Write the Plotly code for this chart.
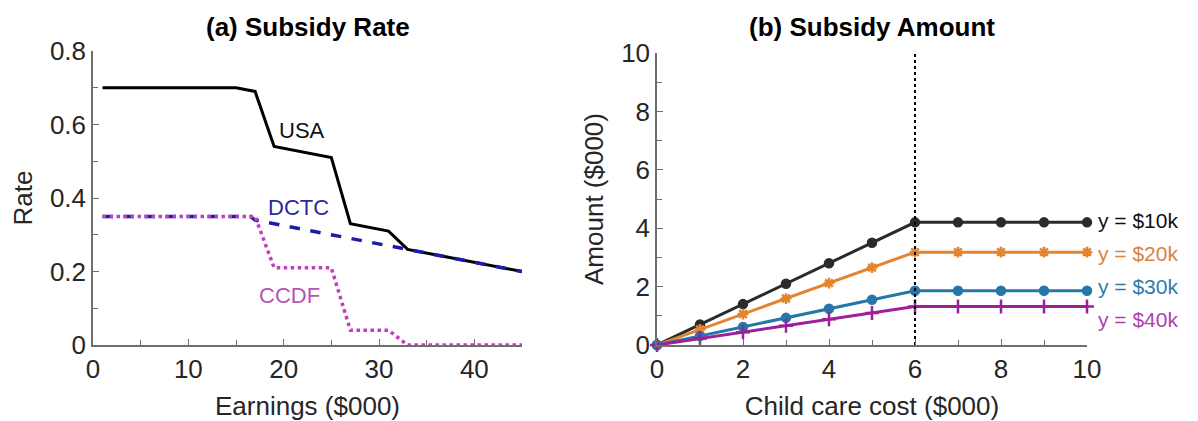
import plotly.graph_objects as go

# ---------------- Data ----------------
# Panel (a): subsidy rate vs earnings ($000)
usa_x = [1, 15, 17, 19, 25, 27, 31, 33, 37, 41, 45]
usa_y = [0.70, 0.70, 0.69, 0.54, 0.51, 0.33, 0.31, 0.26, 0.24, 0.22, 0.20]

dctc_x = [1, 16.5, 17, 33, 45]
dctc_y = [0.35, 0.35, 0.34, 0.26, 0.20]

ccdf_x = [1, 17, 19, 25, 27, 31, 33, 45]
ccdf_y = [0.35, 0.35, 0.21, 0.21, 0.04, 0.04, 0.0, 0.0]

# Panel (b): subsidy amount vs child care cost ($000)
cost = [0, 1, 2, 3, 4, 5, 6, 7, 8, 9, 10]
amt_10k = [0, 0.70, 1.40, 2.10, 2.80, 3.50, 4.20, 4.20, 4.20, 4.20, 4.20]
amt_20k = [0, 0.53, 1.06, 1.59, 2.12, 2.65, 3.18, 3.18, 3.18, 3.18, 3.18]
amt_30k = [0, 0.31, 0.62, 0.93, 1.24, 1.55, 1.86, 1.86, 1.86, 1.86, 1.86]
amt_40k = [0, 0.22, 0.44, 0.66, 0.88, 1.10, 1.32, 1.32, 1.32, 1.32, 1.32]
series_labels = ["y = $10k", "y = $20k", "y = $30k", "y = $40k"]
label_y = [4.28, 3.15, 1.99, 0.86]
cap_cost = 6

# ---------------- Layout geometry ----------------
# The page body has an 8px default margin, so the figure is offset by 8px.
OFF = 8
W, H = 1198 - OFF, 421 - OFF


def px(x):
    return (x - OFF) / W


def py(y):
    return 1 - (y - OFF) / H


XD1 = [px(93), px(522)]
XD2 = [px(657), px(1087)]
YD1 = [py(345), py(51)]
YD2 = [py(345), py(53)]
X2R = [0, 10]
Y2R = [0, 10]


def x2_paper(v):
    return XD2[0] + (v - X2R[0]) / (X2R[1] - X2R[0]) * (XD2[1] - XD2[0])


def y2_paper(v):
    return YD2[0] + (v - Y2R[0]) / (Y2R[1] - Y2R[0]) * (YD2[1] - YD2[0])


FONT = "Liberation Sans, Arial, sans-serif"
TXT = "#262626"
AX = "#6e6e6e"

fig = go.Figure()

# Panel (a)
fig.add_trace(go.Scatter(x=usa_x, y=usa_y, mode="lines", xaxis="x", yaxis="y",
                         line=dict(color="#000000", width=3), showlegend=False))
fig.add_trace(go.Scatter(x=dctc_x, y=dctc_y, mode="lines", xaxis="x", yaxis="y",
                         line=dict(color="#1c1ca6", width=3.5, dash="dash"), showlegend=False))
fig.add_trace(go.Scatter(x=ccdf_x, y=ccdf_y, mode="lines", xaxis="x", yaxis="y",
                         line=dict(color="#c040c0", width=3.5, dash="dot"), showlegend=False))

# Panel (b)
cols = ["#2b2b2b", "#e3852f", "#2477a6", "#9c1f9c"]
syms = ["circle", "asterisk-open", "circle", "cross-thin-open"]
sizes = [8, 9, 8, 10]
for vals, c, s, sz in zip([amt_10k, amt_20k, amt_30k, amt_40k], cols, syms, sizes):
    fig.add_trace(go.Scatter(x=cost, y=vals, mode="lines+markers", xaxis="x2", yaxis="y2",
                             line=dict(color=c, width=3),
                             marker=dict(symbol=s, size=sz, color=c, line=dict(color=c, width=2.5)),
                             cliponaxis=False, showlegend=False))

fig.add_trace(go.Scatter(x=[cap_cost, cap_cost], y=[Y2R[0], Y2R[1]], mode="lines", xaxis="x2", yaxis="y2",
                         line=dict(color="#000000", width=2, dash="dot"), showlegend=False))

annotations = [
    dict(text="<b>(a) Subsidy Rate</b>", x=(XD1[0] + XD1[1]) / 2, y=py(27), xref="paper", yref="paper",
         xanchor="center", yanchor="middle", showarrow=False,
         font=dict(size=26, color="#000000", family=FONT)),
    dict(text="<b>(b) Subsidy Amount</b>", x=(XD2[0] + XD2[1]) / 2, y=py(27), xref="paper", yref="paper",
         xanchor="center", yanchor="middle", showarrow=False,
         font=dict(size=26, color="#000000", family=FONT)),
    dict(text="USA", x=21.9, y=0.585, xref="x", yref="y", showarrow=False,
         font=dict(size=22, color="#111111", family=FONT)),
    dict(text="DCTC", x=21.6, y=0.375, xref="x", yref="y", showarrow=False,
         font=dict(size=22, color="#2a2aa0", family=FONT)),
    dict(text="CCDF", x=20.6, y=0.136, xref="x", yref="y", showarrow=False,
         font=dict(size=22, color="#b455b4", family=FONT)),
]
for lab, ly, c in zip(series_labels, label_y, ["#111111", "#d9823e", "#2d7da8", "#b040b0"]):
    annotations.append(dict(text=lab, x=x2_paper(10.2), y=y2_paper(ly), xref="paper", yref="paper",
                            xanchor="left", yanchor="middle",
                            showarrow=False, font=dict(size=21, color=c, family=FONT)))

axis_common = dict(showline=True, linecolor=AX, linewidth=1.5, ticks="inside", ticklen=6,
                   tickcolor=AX, tickwidth=1.2, showgrid=False, zeroline=False, automargin=False,
                   tickfont=dict(size=26, color=TXT, family=FONT),
                   title_font=dict(size=26, color=TXT, family=FONT))

fig.update_layout(
    width=W, height=H,
    margin=dict(l=0, r=0, t=0, b=0, autoexpand=False),
    paper_bgcolor="white", plot_bgcolor="white",
    font=dict(family=FONT, color=TXT),
    annotations=annotations,
    xaxis=dict(domain=XD1, range=[0, 45], tickvals=[0, 10, 20, 30, 40],
               minor=dict(tickvals=[5, 15, 25, 35, 45], ticks="inside", ticklen=5, tickcolor=AX),
               title=dict(text="Earnings ($000)", standoff=14), anchor="y", **axis_common),
    yaxis=dict(domain=YD1, range=[0, 0.8],
               tickvals=[0, 0.2, 0.4, 0.6, 0.8], ticktext=["0", "0.2", "0.4", "0.6", "0.8"],
               minor=dict(tickvals=[0.1, 0.3, 0.5, 0.7], ticks="inside", ticklen=5, tickcolor=AX),
               title=dict(text="Rate", standoff=14), anchor="x", **axis_common),
    xaxis2=dict(domain=XD2, range=X2R, tickvals=[0, 2, 4, 6, 8, 10],
                minor=dict(tickvals=[1, 3, 5, 7, 9], ticks="inside", ticklen=5, tickcolor=AX),
                title=dict(text="Child care cost ($000)", standoff=14), anchor="y2", **axis_common),
    yaxis2=dict(domain=YD2, range=Y2R, tickvals=[0, 2, 4, 6, 8, 10],
                minor=dict(tickvals=[1, 3, 5, 7, 9], ticks="inside", ticklen=5, tickcolor=AX),
                title=dict(text="Amount ($000)", standoff=10), anchor="x2", **axis_common),
)

fig.write_html("out.html")
